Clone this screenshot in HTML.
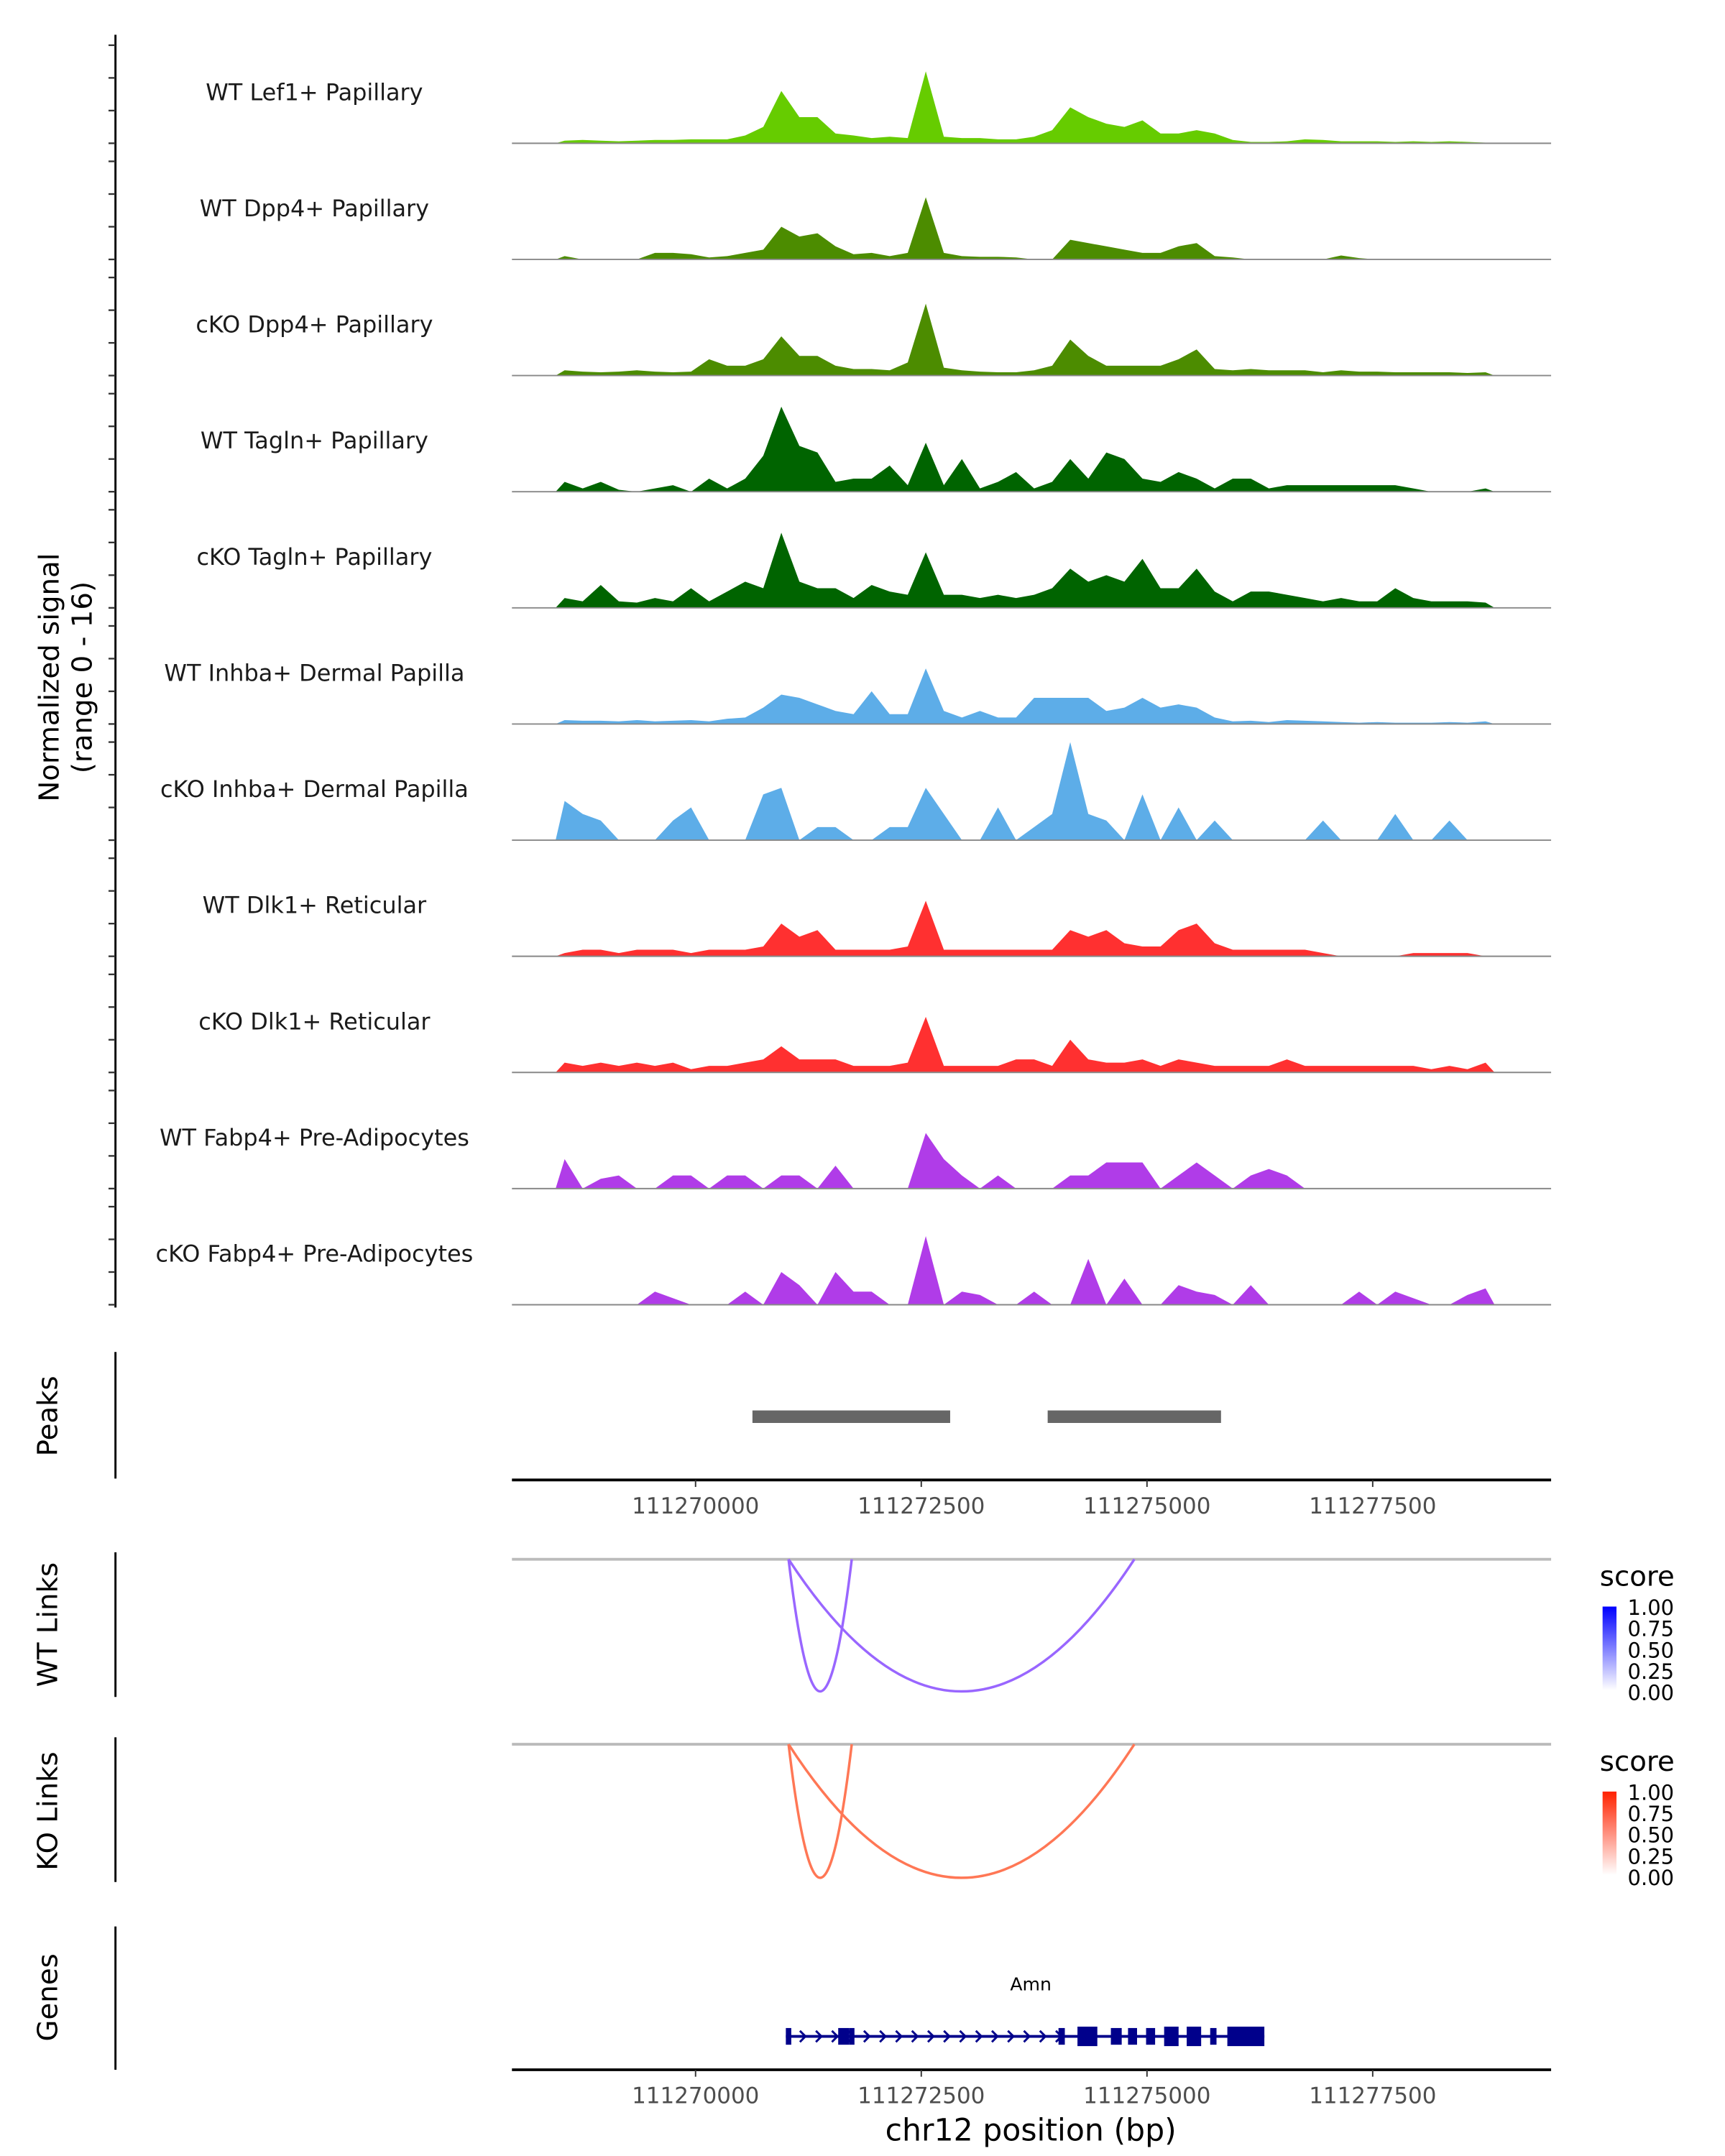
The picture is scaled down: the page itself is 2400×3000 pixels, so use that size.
<!DOCTYPE html>
<html><head><meta charset="utf-8"><style>
html,body{margin:0;padding:0;background:#fff;}
svg{display:block;font-family:"DejaVu Sans","Liberation Sans",sans-serif;}
</style></head><body>
<svg id="chart" xmlns="http://www.w3.org/2000/svg" width="2400" height="3000" viewBox="0 0 1240 1550">
<rect width="1240" height="1550" fill="#fff"/>
<g id="g"></g>
</svg>
<script>
const trackNames = ["WT Lef1+ Papillary","WT Dpp4+ Papillary","cKO Dpp4+ Papillary","WT Tagln+ Papillary","cKO Tagln+ Papillary","WT Inhba+ Dermal Papilla","cKO Inhba+ Dermal Papilla","WT Dlk1+ Reticular","cKO Dlk1+ Reticular","WT Fabp4+ Pre-Adipocytes","cKO Fabp4+ Pre-Adipocytes"];
const trackColors = ["#66cc00","#4c8c00","#4c8c00","#006400","#006400","#5dade8","#5dade8","#ff3030","#ff3030","#b03ce8","#b03ce8"];
const binStart = 111268450;
const binSize = 200;
const sigLef1 = [0.4,0.5,0.4,0.3,0.4,0.5,0.5,0.6,0.6,0.6,1.2,2.5,8,4,4,1.5,1.2,0.8,1,0.8,11,1,0.8,0.8,0.6,0.6,1,2,5.5,4,3,2.5,3.5,1.5,1.5,2,1.5,0.5,0.2,0.2,0.3,0.6,0.5,0.3,0.3,0.3,0.2,0.3,0.2,0.3,0.2,0.1];
const sigWtDpp4 = [0.5,0,0,0,0,1,1,0.8,0.3,0.5,1,1.5,5,3.5,4,2,0.8,1,0.5,1,9.5,1,0.5,0.4,0.4,0.3,0,0,3,2.5,2,1.5,1,1,2,2.5,0.5,0.3,0,0,0,0,0,0.6,0.2,0,0,0,0,0,0,0];
const sigKoDpp4 = [0.8,0.6,0.5,0.6,0.8,0.6,0.5,0.6,2.5,1.5,1.5,2.5,6,3,3,1.5,1,1,0.8,2,11,1.2,0.8,0.6,0.5,0.5,0.8,1.5,5.5,3,1.5,1.5,1.5,1.5,2.5,4,1,0.8,1,0.8,0.8,0.8,0.5,0.8,0.6,0.6,0.5,0.5,0.5,0.5,0.4,0.5];
const sigWtTagln = [1.5,0.5,1.5,0.3,0,0.5,1,0,2,0.5,2,5.5,13,7,6,1.5,2,2,4,1,7.5,1,5,0.5,1.5,3,0.5,1.5,5,2,6,5,2,1.5,3,2,0.5,2,2,0.5,1,1,1,1,1,1,1,0.5,0,0,0,0.5];
const sigKoTagln = [1.5,1,3.5,1,0.8,1.5,1,3,1,2.5,4,3,11.5,4,3,3,1.5,3.5,2.5,2,8.5,2,2,1.5,2,1.5,2,3,6,4,5,4,7.5,3,3,6,2.5,1,2.5,2.5,2,1.5,1,1.5,1,1,3,1.5,1,1,1,0.8];
const sigWtInhba = [0.6,0.5,0.5,0.4,0.6,0.4,0.5,0.6,0.4,0.8,1,2.5,4.5,4,3,2,1.5,5,1.5,1.5,8.5,2,1,2,1,1,4,4,4,4,2,2.5,4,2.5,3,2.5,1,0.4,0.5,0.3,0.6,0.5,0.4,0.3,0.2,0.3,0.2,0.2,0.2,0.3,0.2,0.4];
const sigKoInhba = [6,4,3,0,0,0,3,5,0,0,0,7,8,0,2,2,0,0,2,2,8,4,0,0,5,0,2,4,15,4,3,0,7,0,5,0,3,0,0,0,0,0,3,0,0,0,4,0,0,3,0,0];
const sigWtDlk1 = [0.5,1,1,0.5,1,1,1,0.5,1,1,1,1.5,5,3,4,1,1,1,1,1.5,8.5,1,1,1,1,1,1,1,4,3,4,2,1.5,1.5,4,5,2,1,1,1,1,1,0.5,0,0,0,0,0.5,0.5,0.5,0.5,0];
const sigKoDlk1 = [1.5,1,1.5,1,1.5,1,1.5,0.5,1,1,1.5,2,4,2,2,2,1,1,1,1.5,8.5,1,1,1,1,2,2,1,5,2,1.5,1.5,2,1,2,1.5,1,1,1,1,2,1,1,1,1,1,1,1,0.5,1,0.5,1.5];
const sigWtFabp4 = [4.5,0,1.5,2,0,0,2,2,0,2,2,0,2,2,0,3.5,0,0,0,0,8.5,4.5,2,0,2,0,0,0,2,2,4,4,4,0,2,4,2,0,2,3,2,0,0,0,0,0,0,0,0,0,0,0];
const sigKoFabp4 = [0,0,0,0,0,2,1,0,0,0,2,0,5,3,0,5,2,2,0,0,10.5,0,2,1.5,0,0,2,0,0,7,0,4,0,0,3,2,1.5,0,3,0,0,0,0,0,2,0,2,1,0,0,1.5,2.5];
const signals = [sigLef1,sigWtDpp4,sigKoDpp4,sigWtTagln,sigKoTagln,sigWtInhba,sigKoInhba,sigWtDlk1,sigKoDlk1,sigWtFabp4,sigKoFabp4];
const xTicks = [111270000,111272500,111275000,111277500];
const peakStarts = [111270630,111273900];
const peakEnds = [111272820,111275820];
const linkStarts = [111271030,111271030];
const linkEnds = [111271730,111274860];
const scoreTicks = ["1.00","0.75","0.50","0.25","0.00"];
const exonStarts = [111271000,111271580,111271700,111274020,111274230,111274600,111274790,111274990,111275190,111275440,111275700,111275890];
const exonEnds = [111271060,111271700,111271760,111274090,111274450,111274720,111274890,111275090,111275350,111275600,111275770,111276300];

const NS="http://www.w3.org/2000/svg";
const G=document.getElementById('g');
function el(tag,attrs,parent){const e=document.createElementNS(NS,tag);for(const k in attrs)e.setAttribute(k,attrs[k]);(parent||G).appendChild(e);return e;}
function xs(bp){return 500+(bp-111270000)*0.0649;}
const X0=368,X1=1115;
const unitPx=4.7;
function ys(v,base){return base-v*unitPx;}

let ax=el('line',{x1:83,y1:25,x2:83,y2:940,stroke:'#000','stroke-width':1.5});


let yl=el('text',{transform:'translate(42,487) rotate(-90)','text-anchor':'middle','font-size':20,fill:'#000'});


yl.textContent='Normalized signal';
let yl2=el('text',{transform:'translate(66,487) rotate(-90)','text-anchor':'middle','font-size':20,fill:'#000'});


yl2.textContent='(range 0 - 16)';

signals.forEach((sig,k)=>{
  const base=103+k*83.5;
  for(let t=0;t<4;t++){
    const tk=el('line',{x1:78,x2:83,y1:ys(t*5,base),y2:ys(t*5,base),stroke:'#333','stroke-width':1.2});
    
    
  }
  let d='M'+xs(binStart)+','+base;
  sig.forEach((v,i)=>{
    const c=xs(binStart+(i+0.5)*binSize);
    d+=' L'+c+','+ys(v,base);
  });
  d+=' L'+xs(binStart+sig.length*binSize)+','+base+' Z';
  const p=el('path',{d:d,fill:trackColors[k],stroke:'none'});
  
  
  const bl=el('line',{x1:X0,x2:X1,y1:base,y2:base,stroke:'#888','stroke-width':1});
  
  
  const lb=el('text',{x:226,y:base-31,'text-anchor':'middle','font-size':16.5,fill:'#1a1a1a'});
  
  
  lb.textContent=trackNames[k];
});

function panelAxis(y1,y2,label,cy,name){
  const l=el('line',{x1:83,x2:83,y1:y1,y2:y2,stroke:'#000','stroke-width':1.5});
  
  
  const t=el('text',{transform:'translate(41,'+cy+') rotate(-90)','text-anchor':'middle','font-size':20,fill:'#000'});
  
  
  t.textContent=label;
}
function xAxis(y,name){
  const l=el('line',{x1:X0,x2:X1,y1:y,y2:y,stroke:'#000','stroke-width':2});
  
  
  xTicks.forEach(v=>{
    const t=el('line',{x1:xs(v),x2:xs(v),y1:y,y2:y+5,stroke:'#333','stroke-width':1});
    
    
    const tx=el('text',{x:xs(v),y:y+24,'text-anchor':'middle','font-size':16,fill:'#4d4d4d'});
    
    
    tx.textContent=v;
  });
}
panelAxis(972,1063,'Peaks',1018,'peaks');
peakStarts.forEach((s,i)=>{
  const r=el('rect',{x:xs(s),y:1014,width:xs(peakEnds[i])-xs(s),height:9,fill:'#666'});
  
  
});
xAxis(1064,'peaks-x-axis');

function links(y0,yb,color,label,cy,name,topCol){
  panelAxis(y0-5,y0+99,label,cy,name);
  const g=el('line',{x1:X0,x2:X1,y1:y0,y2:y0,stroke:'#bbb','stroke-width':2});
  
  
  linkStarts.forEach((s,i)=>{
    const a=xs(s),b=xs(linkEnds[i]);const c=y0+(yb-y0)*2;
    const p=el('path',{d:`M${a},${y0} Q${(a+b)/2},${c} ${b},${y0}`,fill:'none',stroke:color,'stroke-width':1.8});
    
    
  });
  const ly=y0+19;
  const st=el('text',{x:1150,y:ly,'font-size':20,fill:'#000'});
  
  
  st.textContent='score';
  const gid='grad'+name;
  const defs=el('defs',{});const lg=el('linearGradient',{id:gid,x1:0,y1:1,x2:0,y2:0},defs);
  el('stop',{offset:0,'stop-color':'#fff'},lg);el('stop',{offset:1,'stop-color':topCol},lg);
  const bar=el('rect',{x:1152,y:ly+15,width:10,height:60,fill:`url(#${gid})`});
  
  
  scoreTicks.forEach((s,i)=>{
    const t=el('text',{x:1170,y:ly+21+i*15.3,'font-size':15,fill:'#000'});
    
    
    t.textContent=s;
  });
}
links(1121,1216,'#9966ff','WT Links',1168,'wt-links','#0000ff');
links(1254,1350,'#ff7755','KO Links',1302,'ko-links','#ff2200');

panelAxis(1385,1488,'Genes',1436,'genes');
const gn=el('text',{x:741,y:1431,'text-anchor':'middle','font-size':13,fill:'#000'});


gn.textContent='Amn';
const gy=1464;
const gl=el('line',{x1:xs(exonStarts[0]),x2:xs(exonEnds[exonEnds.length-1]),y1:gy,y2:gy,stroke:'#00008b','stroke-width':2});


for(let x=575;x<765;x+=11.5){
  const a=el('path',{d:`M${x},${gy-4} L${x+4},${gy} L${x},${gy+4}`,fill:'none',stroke:'#00008b','stroke-width':1.5});
  
  
}
exonStarts.forEach((s,i)=>{
  const big=(xs(exonEnds[i])-xs(s))>8;
  const h=big?14:12;
  const r=el('rect',{x:xs(s),y:gy-h/2,width:Math.max(2.5,xs(exonEnds[i])-xs(s)),height:h,fill:'#00008b'});
  
  
});
xAxis(1488,'genes-x-axis');
const xt=el('text',{x:741,y:1539,'text-anchor':'middle','font-size':22,fill:'#000'});


xt.textContent='chr12 position (bp)';
</script>
</body></html>
